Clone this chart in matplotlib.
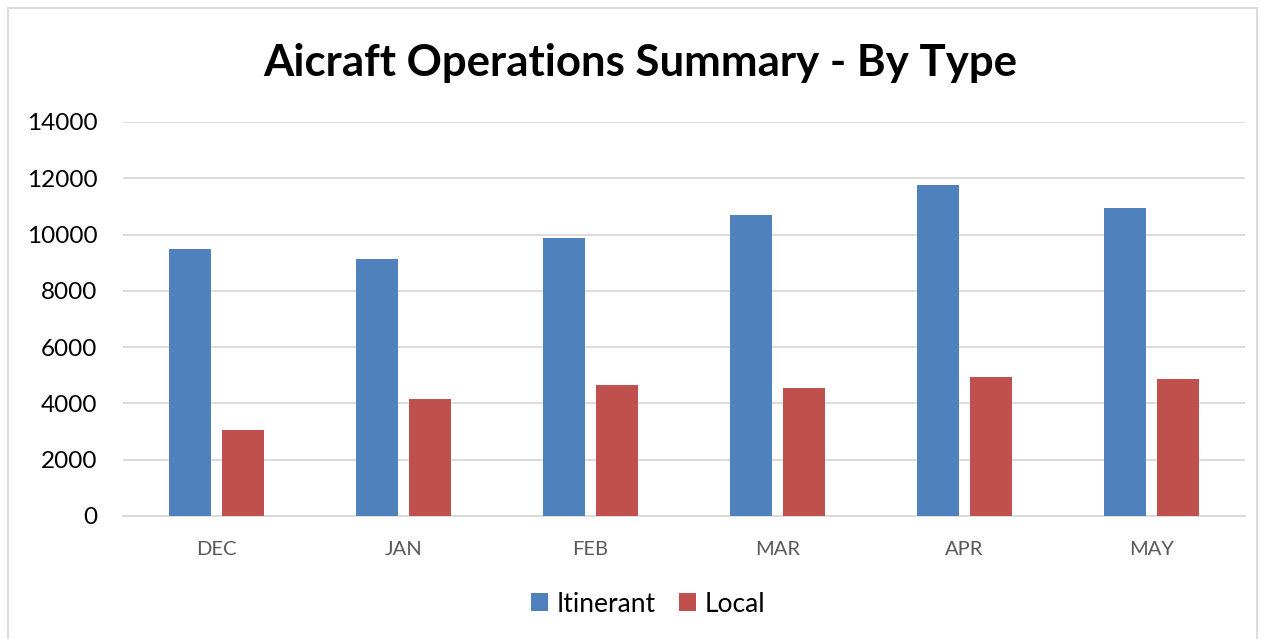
import matplotlib
matplotlib.use("Agg")
import matplotlib.pyplot as plt
import numpy as np
from matplotlib.patches import Rectangle

months = ["DEC", "JAN", "FEB", "MAR", "APR", "MAY"]
itinerant = [9490, 9130, 9870, 10710, 11750, 10960]
local = [3070, 4160, 4670, 4560, 4950, 4880]
yticks = [0, 2000, 4000, 6000, 8000, 10000, 12000, 14000]

W, H = 1264, 639
fig = plt.figure(figsize=(W/100, H/100), dpi=100)
fam = ["Lato", "DejaVu Sans"]

ax = fig.add_axes([123/W, 1-516/H, (1245-123)/W, (516-122)/H])
x = np.arange(len(months))
bw = 0.225
gap = 0.06
ax.bar(x - (bw+gap)/2, itinerant, bw, color="#4F81BD", label="Itinerant", zorder=3)
ax.bar(x + (bw+gap)/2, local, bw, color="#C0504D", label="Local", zorder=3)
ax.set_xlim(-0.5, len(months)-0.5)
ax.set_ylim(0, 14000)
ax.set_yticks(yticks)
ax.set_yticklabels([str(v) for v in yticks], family=fam, fontsize=17.5, color="#000000")
ax.set_xticks(x)
ax.set_xticklabels(months, family=fam, fontsize=14.5, color="#595959")
ax.tick_params(axis="both", length=0)
ax.tick_params(axis="y", pad=18.5)
ax.tick_params(axis="x", pad=18)
ax.grid(axis="y", color="#D9D9D9", linewidth=1.3, zorder=0)
for s in ["top", "right", "left"]:
    ax.spines[s].set_visible(False)
ax.spines["bottom"].set_color("#D9D9D9")
ax.spines["bottom"].set_linewidth(1.3)

fig.text(0.5*(263+1018)/W, 1-63/H, "Aicraft Operations Summary - By Type",
         ha="center", va="center", family=fam, fontweight="bold", fontsize=31.5)

leg = fig.legend(loc="center", bbox_to_anchor=(648/W, 1-604/H), ncol=2,
                 frameon=False, prop={"family": fam, "size": 19},
                 handlelength=0.65, handleheight=0.65, handletextpad=0.3, columnspacing=0.9)

fig.patches.append(Rectangle((8/W, -0.01), (1257-8)/W, 1-8/H+0.01, transform=fig.transFigure,
                             fill=False, edgecolor="#D9D9D9", linewidth=1.3))

fig.savefig("out.png", dpi=100)
